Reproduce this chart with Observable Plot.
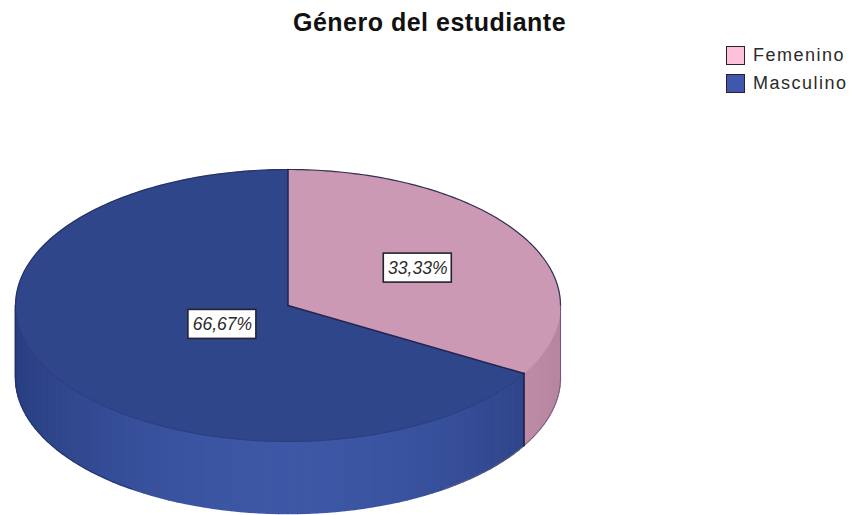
<!DOCTYPE html>
<html lang="es">
<head>
<meta charset="utf-8">
<script src="https://cdn.jsdelivr.net/npm/d3@7"></script>
<script src="https://cdn.jsdelivr.net/npm/@observablehq/plot@0.6"></script>
<style>
  html, body { margin: 0; padding: 0; background: #fff; width: 853px; overflow: hidden; }
  #header { position: relative; height: 150px; font-family: "Liberation Sans", Arial, sans-serif; }
  #title { position: absolute; left: 0; top: 7px; width: 859px; text-align: center; font-weight: bold; font-size: 25px; line-height: 30px; color: #111; letter-spacing: 0.5px; }
  .item { position: absolute; left: 726px; height: 20px; display: flex; align-items: center; color: #2a2a2a; font-size: 18px; letter-spacing: 1.5px; }
  .swatch { width: 17px; height: 17px; border: 1.5px solid #2a2030; margin-right: 8px; flex: none; }
  svg { display: block; }
</style>
</head>
<body>
<div id="header"><div id="title">Género del estudiante</div></div>
<div id="chart"></div>
<script>
const chartTitle = "Género del estudiante";
const categories = ["Femenino", "Masculino"];
const percents = [33.33, 66.67];
const percentLabels = ["33,33%", "66,67%"];
const legendColors = ["#fdc0d8", "#3f58ad"];
const topColors = ["#cc99b5", "#30468a"];
const sideDark = ["#b6859f", "#2a3f82"];
const sideLight = ["#d4a0bc", "#3d57a5"];
const labelRadii = [0.55, 0.278];

// Layout of the drawn pie, in pixels of the 853 x 365 SVG
const W = 853, H = 365, cx = 287.5, cy = 155, rx = 272.5, ry = 136, depth = 72;
const u = 1 / rx;

// angle is clockwise from twelve o'clock, in degrees
const rad = (a) => a * Math.PI / 180;
const px = (a, r = 1) => r * Math.sin(rad(a));
const py = (a, r = 1) => r * (ry * u) * Math.cos(rad(a));
const range = (a0, a1, step) => {
  const out = [];
  for (let a = a0; a < a1; a += step) out.push(a);
  out.push(a1);
  return out;
};

let start = 0;
const slices = categories.map((name, i) => {
  const a0 = start, a1 = start + percents[i] * 3.6;
  start = a1;
  return { name, i, a0, a1, mid: (a0 + a1) / 2 };
});

// Top faces
const faces = slices.flatMap((s) => [
  { x: 0, y: 0, slice: s.i, fill: topColors[s.i] },
  ...range(s.a0, s.a1, 1).map((a) => ({ x: px(a), y: py(a), slice: s.i, fill: topColors[s.i] })),
  { x: 0, y: 0, slice: s.i, fill: topColors[s.i] }
]);

// Visible wall: shaded bands between 90 and 270 degrees
const bands = [];
for (const s of slices) {
  const from = Math.max(s.a0, 90), to = Math.min(s.a1, 270);
  const stops = range(from, to, 2);
  for (let k = 0; k < stops.length - 1; k++) {
    const a = stops[k], b = stops[k + 1], m = (a + b) / 2;
    const t = Math.pow(Math.cos(rad(m)), 2);
    const fill = d3.interpolateRgb(sideDark[s.i], sideLight[s.i])(t);
    const id = `${s.i}-${k}`;
    bands.push(
      { x: px(a), y: py(a), id, fill },
      { x: px(b), y: py(b), id, fill },
      { x: px(b), y: py(b) - depth * u, id, fill },
      { x: px(a), y: py(a) - depth * u, id, fill }
    );
  }
}

// Outlines
const edgeColor = "#1d2048";
const backRim = range(0, 90, 1).map((a) => ({ x: px(a), y: py(a) }));
const leftRim = range(270, 360, 1).map((a) => ({ x: px(a), y: py(a) }));
const silhouetteRight = range(90, 145, 1).map((a) => ({ x: px(a), y: py(a) - depth * u }));
const silhouetteLeft = range(215, 270, 1).map((a) => ({ x: px(a), y: py(a) - depth * u }));
const frontSeam = range(120, 270, 1).map((a) => ({ x: px(a), y: py(a) }));
const spokes = slices.map((s) => [{ x: 0, y: 0 }, { x: px(s.a0), y: py(s.a0) }]);
const wallEdge = [{ x: px(120), y: py(120) }, { x: px(120), y: py(120) - depth * u }];

// Value labels
const labels = slices.map((s) => ({
  x: px(s.mid, labelRadii[s.i]),
  y: py(s.mid, labelRadii[s.i]),
  text: percentLabels[s.i]
}));
const boxW = 34 * u, boxH = 14.5 * u;

const rim = (data, stroke, strokeWidth) =>
  Plot.line(data, { x: "x", y: "y", stroke, strokeWidth, strokeOpacity: 0.9 });

const plot = Plot.plot({
  width: W,
  height: H,
  margin: 0,
  x: { axis: null, domain: [-cx * u, (W - cx) * u], range: [0, W] },
  y: { axis: null, domain: [(cy - H) * u, cy * u], range: [H, 0] },
  marks: [
    Plot.line(bands, { x: "x", y: "y", z: "id", fill: "fill", stroke: "fill", strokeWidth: 1.5 }),
    rim(silhouetteRight, "#6b5a78", 1),
    rim(silhouetteLeft, "#1f2f68", 1),
    Plot.line(faces, { x: "x", y: "y", z: "slice", fill: "fill", stroke: "fill", strokeWidth: 0.5 }),
    rim(frontSeam, "#2a3c7e", 1),
    rim(backRim, edgeColor, 1.2),
    rim(leftRim, "#1d2a5e", 1.2),
    ...spokes.map((d) => rim(d, edgeColor, 1.5)),
    rim(wallEdge, edgeColor, 1.8),
    Plot.line([{ x: px(270), y: py(270) }, { x: px(270), y: py(270) - depth * u }], { x: "x", y: "y", stroke: "#1f2f68", strokeWidth: 1 }),
    Plot.line([{ x: px(90), y: py(90) }, { x: px(90), y: py(90) - depth * u }], { x: "x", y: "y", stroke: "#6b5a78", strokeWidth: 1 }),
    Plot.rect(labels, {
      x1: (d) => d.x - boxW, x2: (d) => d.x + boxW,
      y1: (d) => d.y - boxH, y2: (d) => d.y + boxH,
      fill: "#fff", stroke: "#23232f", strokeWidth: 1.6
    }),
    Plot.text(labels, {
      x: "x", y: "y", text: "text",
      fontFamily: "Liberation Sans", fontStyle: "italic", fontSize: 17.5, fill: "#2a2a2a"
    })
  ]
});
document.getElementById("chart").appendChild(plot);

// Legend above the SVG
const header = document.getElementById("header");
categories.forEach((name, i) => {
  const item = document.createElement("div");
  item.className = "item";
  item.style.top = (45 + i * 28) + "px";
  const sw = document.createElement("div");
  sw.className = "swatch";
  sw.style.background = legendColors[i];
  item.appendChild(sw);
  item.appendChild(document.createTextNode(name));
  header.appendChild(item);
});
</script>
</body>
</html>
